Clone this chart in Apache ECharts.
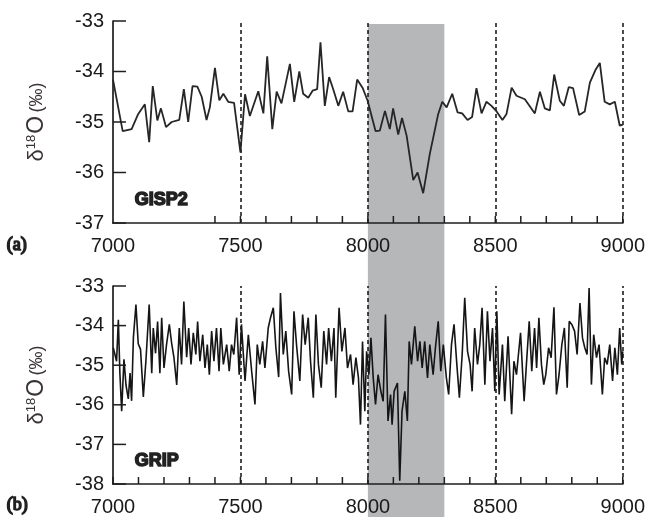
<!DOCTYPE html>
<html>
<head>
<meta charset="utf-8">
<script src="https://cdn.jsdelivr.net/npm/echarts@6/dist/echarts.min.js"></script>
<style>
  html, body { margin: 0; padding: 0; background: #fff; }
  #chart { width: 648px; height: 517px; }
</style>
</head>
<body>
<div id="chart"></div>
<script>
// GISP2 record (top panel)
const gispYears = [7000, 7038, 7073, 7099, 7125, 7142, 7156, 7174, 7188, 7208, 7230, 7260, 7278, 7295, 7312, 7331, 7348, 7367, 7380, 7400,
  7417, 7433, 7452, 7475, 7500, 7518, 7537, 7570, 7590, 7605, 7625, 7642, 7661, 7694, 7711, 7731, 7746, 7766, 7783, 7801,
  7814, 7831, 7848, 7864, 7884, 7903, 7923, 7940, 7958, 7979, 7999, 8005, 8030, 8047, 8067, 8086, 8099, 8119, 8134, 8152,
  8178, 8195, 8217, 8243, 8276, 8292, 8309, 8331, 8352, 8370, 8391, 8409, 8426, 8446, 8465, 8485, 8505, 8528, 8544, 8564,
  8583, 8616, 8655, 8675, 8694, 8714, 8731, 8753, 8769, 8788, 8805, 8829, 8851, 8871, 8894, 8910, 8929, 8949, 8969, 8988, 9000];
const gispValues = [-34.16, -35.18, -35.14, -34.84, -34.65, -35.40, -34.29, -34.97, -34.73, -35.10, -35.00, -34.96, -34.35, -35.00, -34.29, -34.30, -34.50, -34.96, -34.71, -33.93,
  -34.57, -34.44, -34.60, -34.62, -35.60, -34.45, -34.88, -34.39, -34.83, -33.70, -35.14, -34.40, -34.63, -33.85, -34.60, -34.00, -34.44, -34.52, -34.38, -34.35,
  -33.42, -34.68, -34.11, -34.35, -34.68, -34.40, -34.79, -34.79, -34.16, -34.32, -34.58, -34.60, -35.18, -35.17, -34.78, -35.14, -34.73, -35.25, -34.92, -35.27,
  -36.15, -36.00, -36.41, -35.63, -34.84, -34.60, -34.71, -34.44, -34.81, -34.83, -34.96, -34.90, -34.33, -34.83, -34.60, -34.68, -34.79, -34.96, -34.84, -34.32,
  -34.48, -34.55, -34.83, -34.40, -34.73, -34.77, -34.06, -34.58, -34.68, -34.31, -34.33, -34.86, -34.79, -34.22, -33.96, -33.83, -34.60, -34.65, -34.60, -35.07, -35.05];

// GRIP record (bottom panel)
const gripYears = [7001, 7014, 7021, 7027, 7034, 7043, 7051, 7060, 7067, 7073, 7080, 7090, 7099, 7108, 7119, 7129, 7142, 7152, 7158, 7167,
  7175, 7184, 7191, 7200, 7210, 7221, 7230, 7239, 7250, 7260, 7269, 7278, 7289, 7297, 7306, 7315, 7325, 7332, 7341, 7352,
  7361, 7370, 7378, 7387, 7396, 7406, 7416, 7423, 7433, 7446, 7456, 7465, 7474, 7485, 7495, 7504, 7518, 7531, 7544, 7557,
  7566, 7576, 7587, 7596, 7609, 7618, 7629, 7639, 7650, 7657, 7668, 7678, 7689, 7701, 7710, 7720, 7733, 7744, 7754, 7766,
  7775, 7786, 7796, 7806, 7817, 7827, 7838, 7846, 7857, 7867, 7874, 7887, 7898, 7910, 7920, 7932, 7942, 7953, 7963, 7971,
  7979, 7988, 7995, 8004, 8012, 8021, 8030, 8040, 8051, 8060, 8069, 8079, 8089, 8095, 8103, 8116, 8125, 8134, 8145, 8155,
  8162, 8171, 8184, 8195, 8204, 8213, 8223, 8234, 8243, 8256, 8265, 8276, 8286, 8296, 8308, 8317, 8328, 8338, 8349, 8359,
  8370, 8380, 8391, 8401, 8409, 8419, 8430, 8439, 8448, 8459, 8469, 8479, 8489, 8498, 8506, 8515, 8528, 8537, 8550, 8564,
  8573, 8583, 8599, 8613, 8622, 8633, 8643, 8654, 8662, 8671, 8681, 8690, 8698, 8709, 8719, 8730, 8740, 8750, 8761, 8771,
  8782, 8790, 8800, 8811, 8821, 8832, 8842, 8851, 8860, 8868, 8877, 8886, 8897, 8907, 8920, 8929, 8939, 8949, 8960, 8969,
  8979, 8988, 8996, 9000];
const gripValues = [-34.56, -34.90, -33.85, -35.20, -36.16, -34.85, -35.50, -35.85, -35.20, -35.90, -34.30, -33.47, -34.46, -34.60, -35.80, -34.90, -33.47, -35.20, -34.06, -34.70,
  -33.90, -35.20, -33.80, -35.07, -34.48, -33.97, -34.44, -34.80, -35.50, -34.06, -34.98, -33.39, -34.80, -34.06, -34.98, -34.18, -34.73, -33.90, -34.90, -34.23,
  -35.07, -34.48, -35.24, -34.14, -34.90, -34.06, -35.15, -34.06, -34.98, -34.48, -35.15, -34.48, -34.73, -33.80, -35.24, -33.97, -35.40, -34.23, -35.15, -35.99,
  -34.48, -34.98, -34.40, -35.07, -34.06, -33.80, -33.55, -34.56, -35.30, -33.18, -34.73, -34.14, -35.15, -35.74, -33.64, -34.48, -35.40, -33.72, -34.48, -33.80,
  -34.90, -35.82, -33.72, -34.98, -35.57, -34.14, -34.98, -34.06, -34.90, -34.06, -35.82, -33.55, -34.65, -34.06, -35.07, -34.73, -35.49, -34.81, -35.32, -36.50,
  -34.40, -36.16, -34.65, -35.24, -34.31, -35.32, -35.99, -35.24, -35.66, -35.91, -33.72, -36.41, -35.74, -36.50, -35.66, -35.45, -37.92, -36.16, -35.66, -36.41,
  -34.40, -34.98, -34.02, -34.90, -34.40, -35.07, -34.40, -35.32, -34.48, -35.24, -34.56, -33.89, -35.15, -34.48, -35.32, -35.74, -34.48, -33.97, -34.98, -35.82,
  -34.73, -33.30, -34.65, -34.98, -35.66, -34.06, -34.98, -34.48, -33.55, -35.49, -33.64, -34.90, -34.06, -35.66, -33.64, -35.74, -34.48, -35.91, -34.27, -36.24,
  -34.90, -35.24, -34.18, -35.91, -34.98, -33.89, -35.15, -34.06, -35.07, -33.80, -34.98, -35.49, -35.24, -34.56, -34.81, -33.54, -35.74, -35.24, -34.48, -34.06,
  -35.57, -33.89, -33.97, -34.14, -34.73, -33.43, -34.31, -34.56, -34.73, -33.05, -35.49, -34.23, -34.81, -34.48, -35.74, -34.81, -34.98, -34.48, -35.40, -34.56,
  -35.24, -34.06, -34.98, -34.65];

const dashYears = [7500, 8000, 8500, 9000];
const bandRange = [8000, 8300];
const xTickLabels = [7000, 7500, 8000, 8500, 9000];
const xTickStep = 100;
const yMins = [-37, -38];
const yMax = -33;

const zip = (xs, ys) => xs.map((x, i) => [x, ys[i]]);

const chart = echarts.init(document.getElementById('chart'));

const font = 'Liberation Sans, Arial, sans-serif';
const axisColor = '#1e1e1e';
const X_TICK = 7, Y_TICK = 13;

function xAxisFor(idx) {
  return {
    type: 'value', gridIndex: idx, min: 7000, max: 9000, interval: xTickStep, z: 5,
    axisLine: { show: true, lineStyle: { color: axisColor, width: 1.7 } },
    axisTick: { show: false },
    axisLabel: {
      margin: 13, fontSize: 20, color: '#1a1a1a', fontFamily: font, hideOverlap: false,
      formatter: v => xTickLabels.indexOf(v) >= 0 ? String(v) : ''
    },
    splitLine: { show: false }
  };
}
function yAxisFor(idx) {
  return {
    type: 'value', gridIndex: idx, min: yMins[idx], max: yMax, interval: 1, z: 5,
    name: '{d|δ}{s|18}{o|O} {p|(‰)}',
    nameLocation: 'middle', nameGap: 64, nameRotate: 90,
    nameTextStyle: {
      color: '#333',
      rich: {
        d: { fontSize: 22, fontFamily: font, color: '#3a3333' },
        s: { fontSize: 13, fontFamily: font, color: '#3a3333', verticalAlign: 'top', padding: [0, 1, 11, 0] },
        o: { fontSize: 23, fontFamily: font, color: '#3a3333' },
        p: { fontSize: 18, fontFamily: font, color: '#3a3333' }
      }
    },
    axisLine: { show: true, lineStyle: { color: axisColor, width: 1.7 } },
    axisTick: { show: false },
    axisLabel: { margin: 9, fontSize: 20, color: '#1a1a1a', fontFamily: font, hideOverlap: false },
    splitLine: { show: false }
  };
}

const dashLines = {
  silent: true, symbol: 'none', label: { show: false },
  lineStyle: { color: '#111', type: [4, 3], width: 1.5 },
  data: dashYears.map(y => ({ xAxis: y }))
};

chart.setOption({
  backgroundColor: '#fff',
  animation: false,
  grid: [
    { left: 113, right: 25, top: 21, height: 202 },
    { left: 113, right: 25, top: 286, height: 198 }
  ],
  xAxis: [xAxisFor(0), xAxisFor(1)],
  yAxis: [yAxisFor(0), yAxisFor(1)],
  series: [
    {
      name: 'GISP2', type: 'line', xAxisIndex: 0, yAxisIndex: 0, z: 6,
      data: zip(gispYears, gispValues), showSymbol: false,
      lineStyle: { color: '#262626', width: 1.8 },
      markLine: dashLines
    },
    {
      name: 'GRIP', type: 'line', xAxisIndex: 1, yAxisIndex: 1, z: 6,
      data: zip(gripYears, gripValues), showSymbol: false,
      lineStyle: { color: '#151515', width: 1.6 },
      markLine: dashLines
    }
  ],
  graphic: [
    { id: 'lblA', type: 'text', left: 134, top: 190, z: 10,
      style: { text: 'GISP2', font: 'bold 18px Liberation Sans, Arial, sans-serif', fill: '#222' } },
    { id: 'lblB', type: 'text', left: 134, top: 451, z: 10,
      style: { text: 'GRIP', font: 'bold 18px Liberation Sans, Arial, sans-serif', fill: '#222' } },
    { id: 'panA', type: 'text', left: 6, top: 236, z: 10,
      style: { text: '(a)', font: '18px Liberation Serif, Times New Roman, serif', fill: '#222' } },
    { id: 'panB', type: 'text', left: 6, top: 496, z: 10,
      style: { text: '(b)', font: '18px Liberation Serif, Times New Roman, serif', fill: '#222' } }
  ]
});

// inward ticks and the grey band, positioned through the axis scales
const extra = [];
const tickStyle = { stroke: axisColor, lineWidth: 1.5 };
[0, 1].forEach(g => {
  const px = v => chart.convertToPixel({ xAxisIndex: g }, v);
  const py = v => chart.convertToPixel({ yAxisIndex: g }, v);
  const yb = py(yMins[g]);
  const x0 = px(7000);
  for (let v = 7000; v <= 9000; v += xTickStep) {
    const x = px(v);
    extra.push({ type: 'line', z: 8, silent: true, shape: { x1: x, y1: yb, x2: x, y2: yb - X_TICK }, style: tickStyle });
  }
  for (let v = yMins[g]; v <= yMax; v += 1) {
    const y = py(v);
    extra.push({ type: 'line', z: 8, silent: true, shape: { x1: x0, y1: y, x2: x0 + Y_TICK, y2: y }, style: tickStyle });
  }
});
const bx0 = chart.convertToPixel({ xAxisIndex: 0 }, bandRange[0]);
const bx1 = chart.convertToPixel({ xAxisIndex: 0 }, bandRange[1]);
const by0 = chart.convertToPixel({ yAxisIndex: 0 }, yMax) + 3;
extra.push({
  id: 'band', type: 'rect', z: 1, silent: true,
  shape: { x: bx0, y: by0, width: bx1 - bx0, height: 517 - by0 },
  style: { fill: '#b6b7b9' }
});
chart.setOption({ graphic: extra });
</script>
</body>
</html>
